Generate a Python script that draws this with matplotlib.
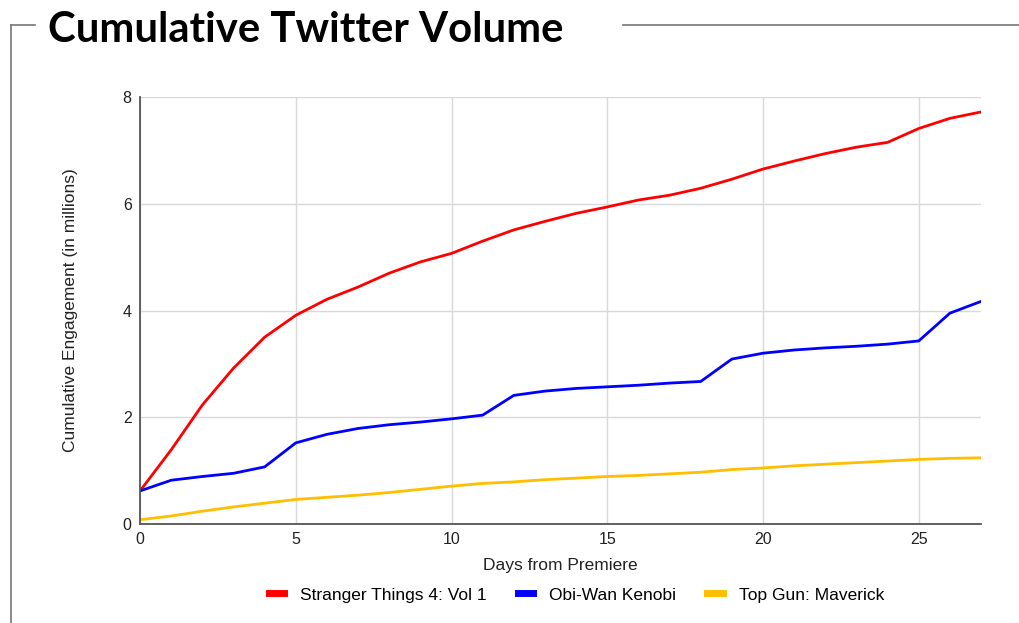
import matplotlib
matplotlib.use("Agg")
from matplotlib import pyplot as plt
from matplotlib.lines import Line2D

# Data (millions of engagements, cumulative)
days = list(range(28))
stranger_things = [0.62, 1.39, 2.23, 2.92, 3.50, 3.91, 4.21, 4.44, 4.70, 4.91,
                   5.07, 5.30, 5.51, 5.67, 5.82, 5.94, 6.07, 6.16, 6.29, 6.46,
                   6.65, 6.80, 6.94, 7.06, 7.15, 7.41, 7.60, 7.72]
obi_wan = [0.62, 0.82, 0.89, 0.95, 1.07, 1.52, 1.68, 1.79, 1.86, 1.91,
           1.97, 2.04, 2.41, 2.49, 2.54, 2.57, 2.60, 2.64, 2.67, 3.09,
           3.20, 3.26, 3.30, 3.33, 3.37, 3.43, 3.95, 4.17]
top_gun = [0.08, 0.15, 0.24, 0.32, 0.39, 0.46, 0.50, 0.54, 0.59, 0.65,
           0.71, 0.76, 0.79, 0.83, 0.86, 0.89, 0.91, 0.94, 0.97, 1.02,
           1.05, 1.09, 1.12, 1.15, 1.18, 1.21, 1.23, 1.24]

labels = ["Stranger Things 4: Vol 1", "Obi-Wan Kenobi", "Top Gun: Maverick"]
colors = ["#ff0000", "#0000ff", "#ffbf00"]

plt.rcParams["font.family"] = ["Liberation Sans", "DejaVu Sans"]

fig = plt.figure(figsize=(10.2, 6.23), dpi=100)
ax = fig.add_axes([0.1373, 0.1589, 0.8245, 0.6854])

for series, lab, col in zip([stranger_things, obi_wan, top_gun], labels, colors):
    ax.plot(days, series, color=col, lw=2.0, label=lab, solid_capstyle="round")

ax.set_xlim(0, 27)
ax.set_ylim(0, 8)
ax.set_xticks([0, 5, 10, 15, 20, 25])
ax.set_yticks([0, 2, 4, 6, 8])
ax.grid(True, color="#d9d9d9", lw=1.0)
ax.set_axisbelow(True)
for s in ["top", "right"]:
    ax.spines[s].set_visible(False)
for s in ["left", "bottom"]:
    ax.spines[s].set_color("#555555")
    ax.spines[s].set_linewidth(1.3)
ax.tick_params(length=0, labelsize=11.5, colors="#222222", pad=6)
ax.set_xlabel("Days from Premiere", fontsize=12.5, color="#222222", labelpad=8)
ax.set_ylabel("Cumulative Engagement (in millions)", fontsize=12.5, color="#222222", labelpad=32)

handles = [Line2D([0], [0], color=c, lw=5) for c in colors]
fig.legend(handles, labels, loc="center", bbox_to_anchor=(0.565, 0.045), ncol=3,
           frameon=False, fontsize=12.5, handlelength=0.9, columnspacing=1.8, handletextpad=0.9)

# title and frame
fig.text(48 / 1020, 1 - 30 / 623, "Cumulative Twitter Volume", fontsize=30.2, fontweight="bold",
         family=["Lato", "DejaVu Sans"], va="center", ha="left")
fig.add_artist(Line2D([11 / 1020, 35 / 1020], [1 - 25 / 623] * 2, color="#777777", lw=1.2))
fig.add_artist(Line2D([11 / 1020, 11 / 1020], [1 - 25 / 623, 0], color="#777777", lw=1.2))
fig.add_artist(Line2D([623 / 1020, 1.0], [1 - 25 / 623] * 2, color="#777777", lw=1.2))

fig.savefig("out.png", dpi=100)
